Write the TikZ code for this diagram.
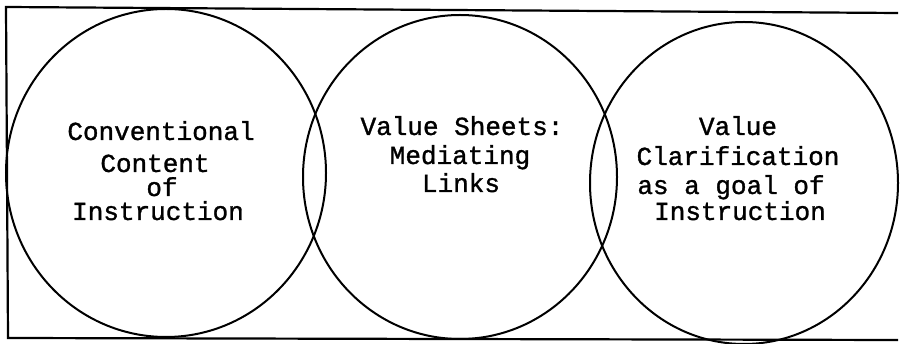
\documentclass[tikz,border=0pt]{standalone}
\usepackage{fontspec}
\setmonofont[FakeBold=1.2]{Liberation Mono}
\begin{document}
\begin{tikzpicture}[x=1pt,y=-1pt,
  ring/.style={draw=black,line width=2pt},
  frameline/.style={draw=black,line width=2.2pt},
  lbl/.style={inner sep=0pt,font=\ttfamily\fontsize{26}{28}\selectfont,anchor=base}]
\useasboundingbox (0,0) rectangle (900,344);
% frame
\coordinate (tl) at (6,7);
\coordinate (tr) at (898,13);
\coordinate (bl) at (8,338);
\coordinate (br) at (898,340);
\draw[frameline] (tr) -- (tl) -- (bl) -- (br);
% circles
\draw[ring] (166,173) ellipse [x radius=160,y radius=164];
\draw[ring] (460,177) ellipse [x radius=157,y radius=162];
\draw[ring] (744,183) ellipse [x radius=154,y radius=161];
% left text
\node[lbl] (l1) at (161,140) {Conventional};
\node[lbl] (l2) at (155,172) {Content};
\node[lbl] (l3) at (162,196) {of};
\node[lbl] (l4) at (158,220) {Instruction};
% middle text
\node[lbl] (m1) at (462,135) {Value Sheets:};
\node[lbl] (m2) at (460,164) {Mediating};
\node[lbl] (m3) at (461,192) {Links};
% right text
\node[lbl] (r1) at (738,135) {Value};
\node[lbl] (r2) at (738,165) {Clarification};
\node[lbl] (r3) at (731,194) {as a goal of};
\node[lbl] (r4) at (740,220) {Instruction};
\end{tikzpicture}
\end{document}
